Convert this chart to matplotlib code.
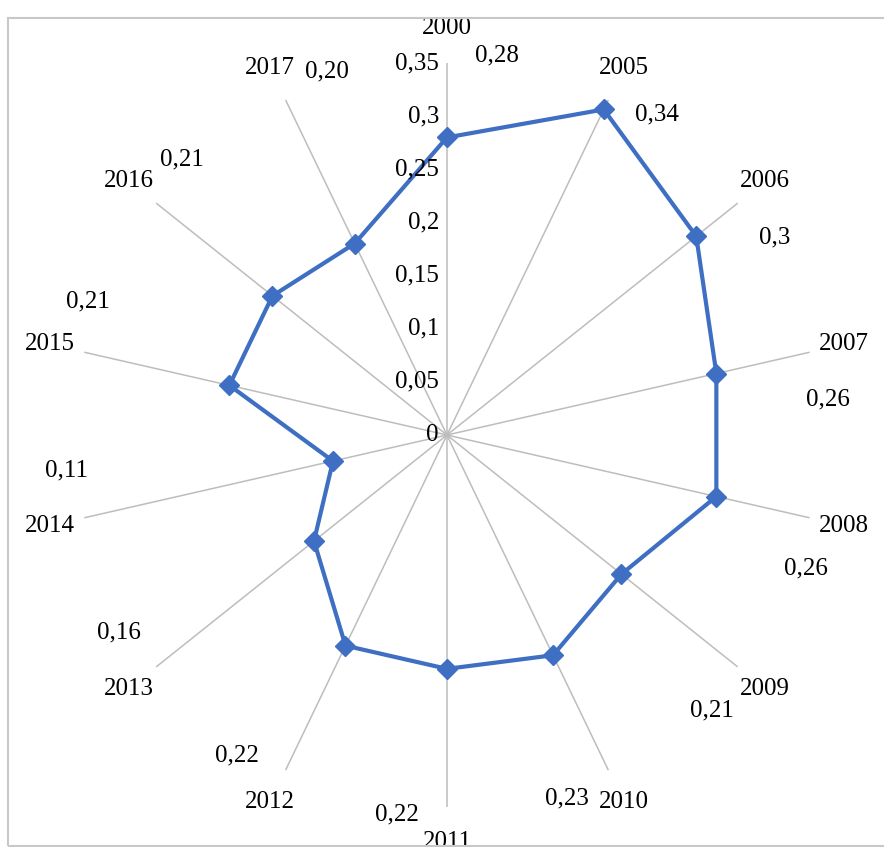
import matplotlib

matplotlib.use('Agg')

import numpy as np
import matplotlib.pyplot as plt
import matplotlib.transforms as mtransforms
from matplotlib.patches import Rectangle

# данные
years = ['2000', '2005', '2006', '2007', '2008', '2009', '2010',
         '2011', '2012', '2013', '2014', '2015', '2016', '2017']
values = [0.28, 0.34, 0.30, 0.26, 0.26, 0.21, 0.23,
          0.22, 0.22, 0.16, 0.11, 0.21, 0.21, 0.20]
value_labels = ['0,28', '0,34', '0,3', '0,26', '0,26', '0,21', '0,23',
                '0,22', '0,22', '0,16', '0,11', '0,21', '0,21', '0,20']
r_ticks = [0, 0.05, 0.1, 0.15, 0.2, 0.25, 0.3, 0.35]
r_tick_labels = ['0', '0,05', '0,1', '0,15', '0,2', '0,25', '0,3', '0,35']

plt.rcParams['font.family'] = ['Liberation Serif', 'DejaVu Serif']

fig = plt.figure(figsize=(8.84, 8.47), dpi=100)
fig.patches.append(Rectangle((8 / 884, 1 / 847), 1.0, 828 / 847,
                             transform=fig.transFigure, fill=False,
                             edgecolor='#c8c8c8', lw=1.5))

ax = fig.add_axes([0.0848, 0.0472, 0.8416, 0.8784], projection='polar')
ax.set_theta_zero_location('N')
ax.set_theta_direction(-1)
ax.set_ylim(0, 0.35)
ax.grid(False)
ax.spines['polar'].set_visible(False)
ax.set_xticks([])
ax.set_yticks([])
ax.patch.set_alpha(0)

n = len(years)
theta = np.arange(n) * 2 * np.pi / n

# лучи
for t in theta:
    ax.plot([t, t], [0, 0.35], color='#bdbdbd', lw=1.1, zorder=1)

# ряд
tc = np.append(theta, theta[0])
vc = np.append(values, values[0])
ax.plot(tc, vc, color='#3e6fc2', lw=3, zorder=3)
ax.plot(theta, values, 'D', color='#3e6fc2', ms=10.5, zorder=4)

fs = 18
# подписи шкалы
off = mtransforms.offset_copy(ax.transData, fig=fig, x=-8, y=0, units='dots')
for v, lab in zip(r_ticks, r_tick_labels):
    ax.text(0, v, lab, transform=off, ha='right', va='center', fontsize=fs)

# подписи категорий и значений
for t, y, lab in zip(theta, years, value_labels):
    ax.text(t, 0.383, y, ha='center', va='center', fontsize=fs, clip_on=False)
    ax.text(t + np.deg2rad(7.5), 0.36, lab, ha='center', va='center',
            fontsize=fs, clip_on=False)

plt.savefig('out.png', dpi=100)
plt.close()
